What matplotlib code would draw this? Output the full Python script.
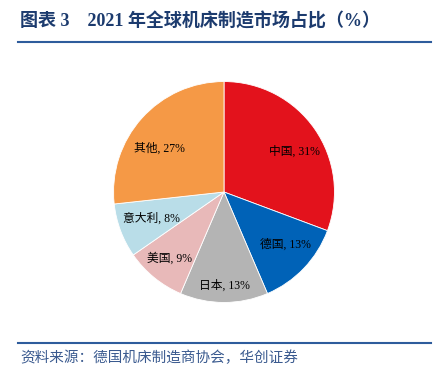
import numpy as np
import matplotlib.pyplot as plt

# data
countries = ["中国", "德国", "日本", "美国", "意大利", "其他"]
shares = [31, 13, 13, 9, 8, 27]
colors = ["#E3121C", "#0062B7", "#B4B4B4", "#E8B9B9", "#B9DDE8", "#F59946"]
label_dist = [0.73, 0.73, 0.85, 0.78, 0.70, 0.70]
label_turn = [-5, 3, 0, 0, 0, 8]

fam = ["Liberation Serif", "Noto Sans CJK SC", "DejaVu Sans"]

fig = plt.figure(figsize=(4.39, 3.78), dpi=100)

# title and rule
fig.text(20 / 439, 1 - 22 / 378, "图表 3    2021 年全球机床制造市场占比（%）",
         family=fam, fontsize=13, fontweight="bold", color="#1C3B6E",
         ha="left", va="center")
fig.add_artist(plt.Line2D([18 / 439, 431 / 439], [1 - 42 / 378, 1 - 42 / 378],
                          color="#2E5C9C", lw=1.5))

# pie
ax = fig.add_axes([(224 - 111) / 439, (378 - 192 - 111) / 378, 222 / 439, 222 / 378])
wedges, texts = ax.pie(shares, colors=colors, startangle=90, counterclock=False,
                       wedgeprops=dict(linewidth=0.6, edgecolor="white"))
for w, name, s, d, t in zip(wedges, countries, shares, label_dist, label_turn):
    mid = np.deg2rad((w.theta1 + w.theta2) / 2 + t)
    ax.text(d * np.cos(mid), d * np.sin(mid), f"{name}, {s}%",
            family=fam, fontsize=8.5, ha="center", va="center", color="black")
ax.set_xlim(-1.005, 1.005)
ax.set_ylim(-1.005, 1.005)
ax.set_aspect("equal")

# source rule and note
fig.add_artist(plt.Line2D([18 / 439, 431 / 439], [1 - 343 / 378, 1 - 343 / 378],
                          color="#2E5C9C", lw=1.5))
fig.text(20 / 439, 1 - 358 / 378, "资料来源：德国机床制造商协会，华创证券",
         family=fam, fontsize=10.5, style="italic", color="#3A5A8F",
         ha="left", va="center")

fig.savefig("out.png", dpi=100)
